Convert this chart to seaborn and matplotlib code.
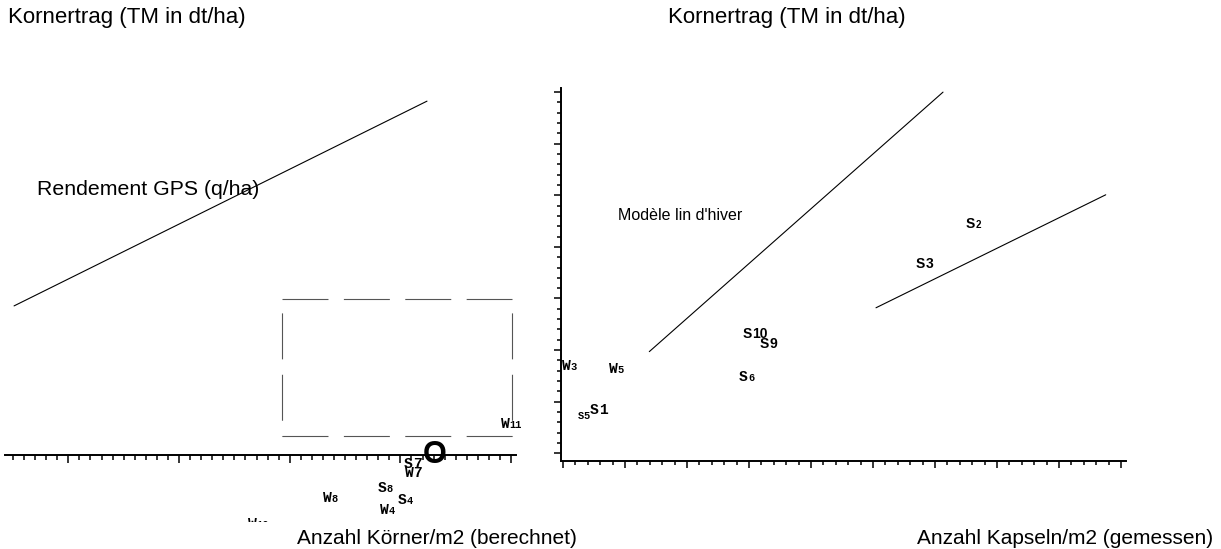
import matplotlib
matplotlib.use("Agg")
import matplotlib.pyplot as plt
import matplotlib.transforms as mtransforms
from matplotlib.ticker import MultipleLocator
import seaborn as sns

# left panel: grain yield vs. calculated grains per m2
left_names = ["W11", "S7", "W7", "S8", "W8", "S4", "W4", "W10"]
left_x = [49060, 40330, 40400, 37980, 33000, 39780, 38160, 26230]
left_y = [5.3, -2.5, -4.3, -7.2, -9.1, -9.5, -11.4, -14.2]

gps_line_x = [5100, 42400]
gps_line_y = [28.9, 68.6]

frame_x = [29260, 50080]
frame_y = [3.7, 30.3]

origin_x = 43130
origin_y = -1.55

# right panel: grain yield vs. measured capsules per m2
right_names = ["W3", "W5", "S5", "S1", "S10", "S9", "S6", "S3", "S2"]
right_x = [-2.1, 74.2, 23.7, 43.5, 290.3, 317.7, 283.9, 569.4, 650.0]
right_y = [16.1, 15.6, 6.6, 7.6, 22.4, 20.4, 14.0, 35.9, 43.7]

winter_line_x = [139.2, 612.9]
winter_line_y = [19.7, 70.0]
summer_line_x = [504.8, 875.3]
summer_line_y = [28.2, 50.1]

LABEL_STYLE = {"S7": "mono_even", "W7": "mono_even", "S1": "mono_even",
               "S5": "mono_tiny", "S6": "mono_gap", "S10": "sans", "S9": "sans",
               "S3": "sans", "S2": "sans_small"}
# family, weight, letter size, digit size, extra gap (em)
STYLES = {
    "mono": ("Liberation Mono", "bold", 10.5, 7.5, 0.0),
    "mono_gap": ("Liberation Mono", "bold", 10.5, 7.5, 0.06),
    "mono_even": ("Liberation Mono", "bold", 10.5, 10.5, 0.0),
    "mono_tiny": ("Liberation Mono", "bold", 7.5, 7.5, 0.0),
    "sans": ("Liberation Sans", "bold", 10, 10, 0.0),
    "sans_small": ("Liberation Sans", "bold", 10, 7, 0.0),
}


def put_label(ax, x, y, name, clip):
    fam, weight, size, dsize, gap = STYLES[LABEL_STYLE.get(name, "mono")]
    adv = (0.6 if "Mono" in fam else 0.667) + gap
    ax.text(x, y, name[0], family=fam, weight=weight, fontsize=size,
            ha="left", va="baseline", clip_on=clip, color="black")
    shift = mtransforms.offset_copy(ax.transData, fig=ax.figure,
                                    x=adv * size, y=0, units="points")
    ax.text(x, y, name[1:], transform=shift, family=fam, weight=weight,
            fontsize=dsize, ha="left", va="baseline", clip_on=clip, color="black")


sns.set_theme(style="white")
plt.rcParams["font.family"] = ["Liberation Sans", "DejaVu Sans"]
plt.rcParams["lines.scale_dashes"] = False
plt.rcParams["axes.edgecolor"] = "black"
plt.rcParams["text.color"] = "black"

W, H = 1221, 549
fig = plt.figure(figsize=(W / 100, H / 100), dpi=100)

# ---------------- left panel ----------------
axl = fig.add_axes([5 / W, 27 / H, 511 / W, 442 / H])
axl.set_xlim(4282, 50440)
axl.set_ylim(-13, 72.7)
axl.patch.set_alpha(0)
for s in ["top", "right", "left"]:
    axl.spines[s].set_visible(False)
axl.spines["bottom"].set_position(("data", 0))
axl.spines["bottom"].set_linewidth(1.4)
axl.xaxis.set_major_locator(MultipleLocator(10000))
axl.xaxis.set_minor_locator(MultipleLocator(1000))
axl.tick_params(axis="x", which="both", bottom=True, direction="out",
                color="black", width=1.1, labelbottom=False)
axl.tick_params(axis="x", which="major", length=6)
axl.tick_params(axis="x", which="minor", length=3.5)
axl.set_yticks([])

sns.lineplot(x=gps_line_x, y=gps_line_y, ax=axl, color="black", lw=0.8)
axl.set_xlabel("")
axl.set_ylabel("")

on, off = 33.1, 11.1
edge = "#555555"
axl.plot(frame_x, [frame_y[1]] * 2, color=edge, lw=0.8, linestyle=(0, (on, off)))
axl.plot(frame_x, [frame_y[0]] * 2, color=edge, lw=0.8, linestyle=(0, (on, off)))
for fx in frame_x:
    axl.plot([fx, fx], [frame_y[1], frame_y[0]], color=edge, lw=0.8,
             linestyle=(34.2, (on, off)))

axl.text(7170, 51.4, "Rendement GPS (q/ha)", fontsize=15.3, ha="left", va="center")
axl.text(origin_x, origin_y, "O", fontsize=22, weight="bold", ha="center",
         va="baseline")
ybottom = axl.get_ylim()[0]
for n, x, y in zip(left_names, left_x, left_y):
    # only labels that fall below the panel get cut, as in the original
    put_label(axl, x, y, n, y < ybottom)

# ---------------- right panel ----------------
axr = fig.add_axes([561 / W, 88 / H, 565 / W, 373 / H])
axr.set_xlim(-3.2, 908)
axr.set_ylim(-1.5, 70.8)
axr.patch.set_alpha(0)
for s in ["top", "right"]:
    axr.spines[s].set_visible(False)
for s in ["left", "bottom"]:
    axr.spines[s].set_linewidth(1.4)
axr.xaxis.set_major_locator(MultipleLocator(100))
axr.xaxis.set_minor_locator(MultipleLocator(20))
axr.yaxis.set_major_locator(MultipleLocator(10))
axr.yaxis.set_minor_locator(MultipleLocator(2))
axr.tick_params(which="both", bottom=True, left=True, direction="out",
                color="black", width=1.1, labelbottom=False, labelleft=False)
axr.tick_params(which="major", length=5)
axr.tick_params(which="minor", length=3)

sns.lineplot(x=winter_line_x, y=winter_line_y, ax=axr, color="black", lw=0.8)
sns.lineplot(x=summer_line_x, y=summer_line_y, ax=axr, color="black", lw=0.8)
axr.set_xlabel("")
axr.set_ylabel("")

axr.text(88.7, 46.0, "Modèle lin d'hiver", fontsize=11.5, ha="left", va="center")
for n, x, y in zip(right_names, right_x, right_y):
    put_label(axr, x, y, n, False)

# ---------------- axis captions ----------------
fig.text(8 / W, 1 - 17 / H, "Kornertrag (TM in dt/ha)", fontsize=16, va="center")
fig.text(668 / W, 1 - 17 / H, "Kornertrag (TM in dt/ha)", fontsize=16, va="center")
fig.text(297 / W, 1 - 539 / H, "Anzahl Körner/m2 (berechnet)", fontsize=15, va="center")
fig.text(917 / W, 1 - 539 / H, "Anzahl Kapseln/m2 (gemessen)", fontsize=15, va="center")

fig.savefig("out.png", dpi=100)
